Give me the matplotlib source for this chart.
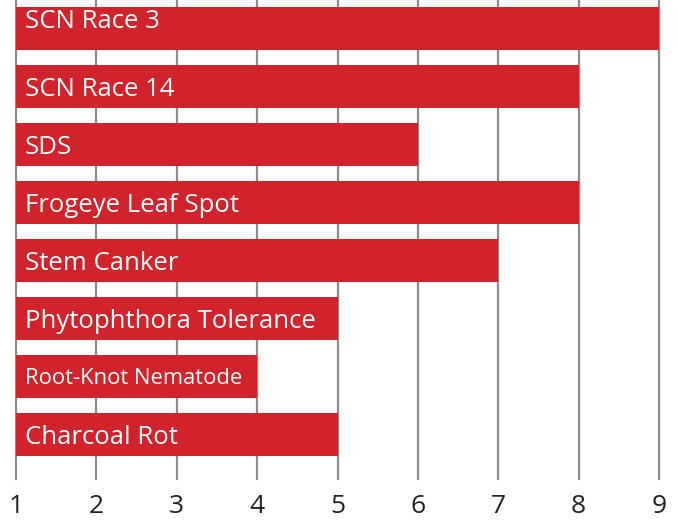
import matplotlib
matplotlib.use("Agg")
import matplotlib.pyplot as plt
import matplotlib.transforms as mtransforms

# --- Data ---
traits = [
    "SCN Race 3",
    "SCN Race 14",
    "SDS",
    "Frogeye Leaf Spot",
    "Stem Canker",
    "Phytophthora Tolerance",
    "Root-Knot Nematode",
    "Charcoal Rot",
]
scores = [9, 8, 6, 8, 7, 5, 4, 5]
ticks = [1, 2, 3, 4, 5, 6, 7, 8, 9]

BAR_COLOR = "#D0232B"
GRID_COLOR = "#8c8c8c"

plt.rcParams["font.family"] = ["Open Sans", "DejaVu Sans"]

fig = plt.figure(figsize=(6.78, 5.2), dpi=100)
ax_h = 479 / 520
ax = fig.add_axes([16 / 678, 1 - ax_h, (659 - 16) / 678, ax_h])

ypos = list(range(len(traits)))
base = ticks[0]
ax.barh(ypos, [s - base for s in scores], left=base, height=0.74,
        color=BAR_COLOR, zorder=2)

for x in ticks:
    ax.axvline(x, color=GRID_COLOR, lw=1.6, zorder=1, clip_on=False)

# bar labels, baseline placed so caps sit centred on the bar
for i, name in enumerate(traits):
    size = 15.8 if name == "Root-Knot Nematode" else 18.5
    cap_half = 0.714 * size * 100 / 72 / 2 / 58  # in bar-pitch units
    dy = -0.172 if i == 0 else 0
    ax.text(base + 0.11, i + dy + cap_half, name, color="white", fontsize=size,
            va="baseline", ha="left", zorder=3)

ax.set_xlim(ticks[0], ticks[-1])
ax.set_ylim(7.767, -0.491)
ax.set_yticks([])
ax.set_xticks([])
for sp in ax.spines.values():
    sp.set_visible(False)

# x tick labels
trans = mtransforms.blended_transform_factory(ax.transData, ax.transAxes)
for t in ticks:
    ax.text(t, -34 / 479, str(t), transform=trans, ha="center", va="baseline",
            fontsize=19, color="#222222", clip_on=False)

fig.savefig("out.png", facecolor="white")
